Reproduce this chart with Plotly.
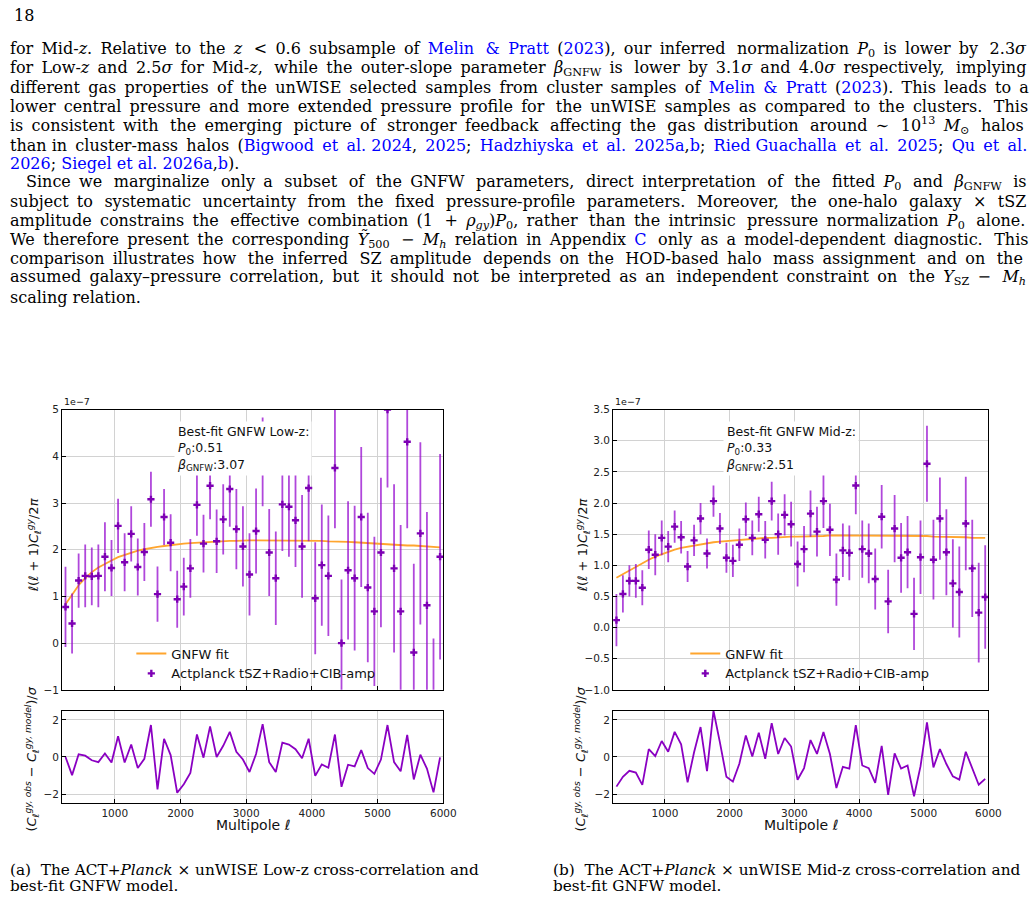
import plotly.graph_objects as go

W, H = 1035, 908

# ---------------- data (values in units of 1e-7) ----------------
ELL = [250, 350, 450, 550, 650, 750, 850, 950, 1050, 1150,
       1250, 1350, 1450, 1550, 1650, 1750, 1850, 1950, 2050, 2150,
       2250, 2350, 2450, 2550, 2650, 2750, 2850, 2950, 3050, 3150,
       3250, 3350, 3450, 3550, 3650, 3750, 3850, 3950, 4050, 4150,
       4250, 4350, 4450, 4550, 4650, 4750, 4850, 4950, 5050, 5150,
       5250, 5350, 5450, 5550, 5650, 5750, 5850, 5950]

LOW_Y = [0.775, 0.42, 1.34, 1.44, 1.43, 1.44, 1.85, 1.61, 2.51, 1.73,
         2.34, 1.63, 1.95, 3.08, 1.05, 2.70, 2.15, 0.94, 1.21, 1.60,
         2.96, 2.13, 3.37, 2.18, 2.65, 3.30, 2.44, 2.07, 1.47, 2.40,
         3.88, 1.94, 1.39, 2.97, 2.92, 2.63, 2.07, 3.32, 0.96, 1.67,
         1.44, 3.75, 0.00, 1.56, 1.39, 2.70, 1.19, 0.68, 1.94, 5.00,
         1.60, 0.68, 4.31, -0.20, 2.35, 0.81, -1.90, 1.85]
LOW_ERR = [0.86, 0.64, 0.58, 0.67, 0.62, 0.67, 0.74, 0.60, 0.58, 0.62,
           0.59, 0.61, 0.62, 0.59, 0.59, 0.60, 0.61, 0.61, 0.62, 0.63,
           0.66, 0.62, 0.72, 0.68, 0.75, 0.81, 0.86, 0.86, 0.88, 0.91,
           0.95, 0.93, 1.00, 1.00, 1.07, 1.00, 1.10, 1.14, 1.20, 1.30,
           1.29, 1.29, 1.36, 1.48, 1.55, 1.50, 1.60, 1.60, 1.60, 1.67,
           1.80, 1.85, 1.85, 1.90, 1.95, 2.00, 2.00, 2.20]
LOW_MODEL = [0.83, 1.05, 1.24, 1.39, 1.52, 1.62, 1.70, 1.77, 1.84, 1.89,
             1.94, 1.98, 2.01, 2.04, 2.06, 2.08, 2.10, 2.12, 2.13, 2.14,
             2.15, 2.16, 2.17, 2.18, 2.18, 2.19, 2.19, 2.20, 2.20, 2.20,
             2.20, 2.20, 2.20, 2.20, 2.20, 2.20, 2.20, 2.19, 2.19, 2.19,
             2.18, 2.18, 2.17, 2.17, 2.16, 2.15, 2.14, 2.13, 2.13, 2.12,
             2.11, 2.10, 2.09, 2.09, 2.08, 2.07, 2.06, 2.05]
LOW_RES = [0.00, -0.98, 0.14, 0.07, -0.18, -0.28, 0.19, -0.30, 1.12, -0.30,
           0.67, -0.60, -0.10, 1.72, -1.75, 0.98, 0.10, -1.93, -1.47, -0.86,
           1.21, -0.04, 1.65, 0.00, 0.60, 1.35, 0.28, -0.14, -0.81, 0.16,
           1.77, -0.28, -0.81, 0.77, 0.67, 0.42, -0.07, 0.98, -1.02, -0.40,
           -0.58, 1.21, -1.61, -0.42, -0.51, 0.37, -0.60, -0.91, -0.14, 1.72,
           -0.28, -0.77, 1.19, -1.21, 0.12, -0.63, -1.91, -0.02]

MID_Y = [0.12, 0.54, 0.75, 0.75, 0.64, 1.25, 1.17, 1.44, 1.30, 1.62,
         1.45, 0.98, 1.40, 1.75, 1.19, 2.03, 1.59, 1.12, 1.07, 1.33,
         1.74, 1.44, 1.82, 1.41, 2.03, 1.50, 1.81, 1.66, 1.02, 1.26,
         1.83, 1.54, 2.03, 1.57, 0.77, 1.24, 1.20, 2.28, 1.26, 1.19,
         0.78, 1.78, 0.42, 1.59, 1.12, 1.21, 0.22, 1.13, 2.63, 1.09,
         1.75, 1.21, 0.71, 0.57, 1.67, 0.95, 0.24, 0.49]
MID_ERR = [0.42, 0.30, 0.25, 0.27, 0.28, 0.31, 0.33, 0.28, 0.25, 0.26,
           0.26, 0.25, 0.25, 0.25, 0.24, 0.25, 0.25, 0.24, 0.26, 0.26,
           0.27, 0.28, 0.28, 0.30, 0.31, 0.33, 0.33, 0.36, 0.36, 0.37,
           0.37, 0.40, 0.43, 0.42, 0.42, 0.43, 0.44, 0.46, 0.46, 0.48,
           0.49, 0.51, 0.51, 0.54, 0.56, 0.58, 0.58, 0.59, 0.61, 0.64,
           0.66, 0.69, 0.71, 0.73, 0.75, 0.78, 0.80, 0.83]
MID_MODEL = [0.80, 0.86, 0.92, 0.98, 1.04, 1.09, 1.14, 1.18, 1.22, 1.25,
             1.28, 1.30, 1.32, 1.34, 1.36, 1.37, 1.38, 1.39, 1.40, 1.41,
             1.42, 1.43, 1.43, 1.44, 1.44, 1.45, 1.45, 1.46, 1.46, 1.46,
             1.47, 1.47, 1.47, 1.48, 1.48, 1.48, 1.48, 1.48, 1.48, 1.48,
             1.48, 1.48, 1.48, 1.48, 1.48, 1.47, 1.47, 1.47, 1.47, 1.46,
             1.46, 1.46, 1.45, 1.45, 1.45, 1.44, 1.44, 1.44]
MID_RES = [-1.60, -1.07, -0.75, -0.84, -1.51, 0.42, 0.04, 0.86, 0.28, 1.35,
           0.68, -1.37, 0.25, 1.61, -0.77, 2.49, 0.77, -1.07, -1.33, -0.37,
           1.16, 0.02, 1.30, -0.10, 1.82, 0.16, 1.02, 0.56, -1.23, -0.60,
           0.91, 0.16, 1.35, 0.16, -1.68, -0.53, -0.63, 1.72, -0.46, -0.60,
           -1.40, 0.60, -2.04, 0.19, -0.63, -0.46, -2.12, -0.51, 1.86, -0.56,
           0.42, -0.38, -1.05, -1.22, 0.28, -0.65, -1.50, -1.18]

X_TICKS = [1000, 2000, 3000, 4000, 5000, 6000]
LOW_YTICKS = [-1, 0, 1, 2, 3, 4, 5]
MID_YTICKS = [-1.0, -0.5, 0.0, 0.5, 1.0, 1.5, 2.0, 2.5, 3.0, 3.5]
RES_YTICKS = [-2, 0, 2]

LOW_FIT = ("Best-fit GNFW Low-z:", "0.51", "3.07")
MID_FIT = ("Best-fit GNFW Mid-z:", "0.33", "2.51")
DATA_NAME = "Actplanck tSZ+Radio+CIB-amp"
MODEL_NAME = "GNFW fit"

# ---------------- styling ----------------
PURPLE = "#7d00b4"
PURPLE_BAR = "rgba(145,0,205,0.72)"
RES_COLOR = "#8a00c2"
ORANGE = "#ffa52e"
SANS = "DejaVu Sans"
SERIF = "DejaVu Serif"
BLUE = "#0000ff"
BODY_SIZE = 16


def px(x):
    return x / W


def py(y):
    return 1 - y / H


LX = [px(63), px(449)]
MX = [px(621), px(1001)]
TOPY = [py(693), py(409)]
BOTY = [py(808), py(714)]

fig = go.Figure()

panels = [
    ("x", "y", "x2", "y2", LOW_Y, LOW_ERR, LOW_MODEL, LOW_RES, "legend"),
    ("x3", "y3", "x4", "y4", MID_Y, MID_ERR, MID_MODEL, MID_RES, "legend2"),
]
for xa, ya, xb, yb, yv, ev, mv, rv, lg in panels:
    fig.add_trace(go.Scatter(x=ELL, y=mv, mode="lines", name=MODEL_NAME,
                             line=dict(color=ORANGE, width=1.8),
                             xaxis=xa, yaxis=ya, legend=lg))
    fig.add_trace(go.Scatter(x=ELL, y=yv, mode="markers", name=DATA_NAME,
                             marker=dict(symbol="cross", size=6, color=PURPLE,
                                         line=dict(width=0)),
                             error_y=dict(type="data", array=ev, visible=True,
                                          color=PURPLE_BAR, thickness=1.8, width=0),
                             xaxis=xa, yaxis=ya, legend=lg))
    fig.add_trace(go.Scatter(x=ELL, y=rv, mode="lines", showlegend=False,
                             line=dict(color=RES_COLOR, width=1.8),
                             xaxis=xb, yaxis=yb))

axc = dict(showline=True, linecolor="black", linewidth=1.3, mirror=True,
           ticks="inside", ticklen=4, tickwidth=1, tickcolor="black",
           showgrid=True, gridcolor="#d2d2d2", gridwidth=1, zeroline=False,
           tickfont=dict(family=SANS, size=10.5, color="#222"))

fig.update_layout(
    width=W, height=H, margin=dict(l=0, r=0, t=0, b=0),
    paper_bgcolor="white", plot_bgcolor="white", autosize=False,
    font=dict(family=SANS, color="#111"),
    xaxis=dict(domain=LX, anchor="y", range=[200, 6000], tickvals=X_TICKS,
               showticklabels=False, **axc),
    yaxis=dict(domain=TOPY, anchor="x", range=[-1, 5], tickvals=LOW_YTICKS, **axc),
    xaxis2=dict(domain=LX, anchor="y2", range=[200, 6000], tickvals=X_TICKS, **axc),
    yaxis2=dict(domain=BOTY, anchor="x2", range=[-2.5, 2.5], tickvals=RES_YTICKS, **axc),
    xaxis3=dict(domain=MX, anchor="y3", range=[200, 6000], tickvals=X_TICKS,
                showticklabels=False, **axc),
    yaxis3=dict(domain=TOPY, anchor="x3", range=[-1, 3.5], tickvals=MID_YTICKS,
                tickformat=".1f", **axc),
    xaxis4=dict(domain=MX, anchor="y4", range=[200, 6000], tickvals=X_TICKS, **axc),
    yaxis4=dict(domain=BOTY, anchor="x4", range=[-2.5, 2.5], tickvals=RES_YTICKS, **axc),
    legend=dict(x=px(133), y=py(641), xanchor="left", yanchor="top",
                bgcolor="rgba(0,0,0,0)", font=dict(family=SANS, size=13, color="#111"),
                itemwidth=30, tracegroupgap=0),
    legend2=dict(x=px(694), y=py(641), xanchor="left", yanchor="top",
                 bgcolor="rgba(0,0,0,0)", font=dict(family=SANS, size=13, color="#111"),
                 itemwidth=30, tracegroupgap=0),
)

ann = []


def add(text, x, y, size, family=SANS, xanchor="left", yanchor="middle",
        angle=0, color="#111", **kw):
    ann.append(dict(text=text, x=px(x), y=py(y), xref="paper", yref="paper",
                    showarrow=False, xanchor=xanchor, yanchor=yanchor,
                    textangle=angle, font=dict(family=family, size=size, color=color),
                    **kw))


# fit boxes
for fit, x0 in ((LOW_FIT, 176), (MID_FIT, 732)):
    txt = (f"{fit[0]}<br><i>P</i><sub>0</sub>:{fit[1]}<br>"
           f"<i>β</i><sub>GNFW</sub>:{fit[2]}")
    add(txt, x0, 421, 12.5, yanchor="top", align="left", bgcolor="white", borderpad=2)

# offset texts, axis titles
YT = ("<i>ℓ</i>(<i>ℓ</i> + 1)<i>C</i><sub><i>ℓ</i></sub>"
      "<sup><i>gy</i></sup>/2<i>π</i>")
RT = ("(<i>C</i><sub><i>ℓ</i></sub><sup><i>gy, obs</i></sup> − "
      "<i>C</i><sub><i>ℓ</i></sub><sup><i>gy, model</i></sup>)/<i>σ</i>")
for x0, x1, cx in ((63, 449, 34), (621, 1001, 590)):
    add("1e−7", x0, 401, 9.5)
    add(YT, cx, 547, 13, xanchor="center", angle=-90)
    add(RT, cx - 2, 763, 13, xanchor="center", angle=-90)
    add("Multipole <i>ℓ</i>", (x0 + x1) / 2, 830, 14, xanchor="center")

# captions
CAP_A = ["(a)  The ACT+<i>Planck</i> × unWISE Low-z cross-correlation and",
         "best-fit GNFW model."]
CAP_B = ["(b)  The ACT+<i>Planck</i> × unWISE Mid-z cross-correlation and",
         "best-fit GNFW model."]
for lines, x0 in ((CAP_A, 8), (CAP_B, 558)):
    for i, t in enumerate(lines):
        add(t, x0, 876 + 15.5 * i, 15.3, family=SERIF, color="#000")


def c(s):
    return f"<span style='color:{BLUE}'>{s}</span>"


def justify(text, extra_px, size):
    """Widen inter-word gaps (outside tags) with thin spaces to approximate justification."""
    n_thin = max(0, round(extra_px / (0.2 * size)))
    parts, buf, depth = [], "", 0
    for ch in text:
        if ch == "<":
            depth += 1
        elif ch == ">":
            depth -= 1
        if ch == " " and depth == 0:
            parts.append(buf)
            buf = ""
        else:
            buf += ch
    parts.append(buf)
    gaps = len(parts) - 1
    if gaps <= 0 or n_thin == 0:
        return text
    out = parts[0]
    for i in range(gaps):
        k = (i + 1) * n_thin // gaps - i * n_thin // gaps
        out += " " + "\u2009" * k + parts[i + 1]
    return out


# (indent, text, approximate missing width to the right margin in px)
BODY = [
    (8, f"for Mid-<i>z</i>. Relative to the <i>z</i> &lt; 0.6 subsample of {c('Melin &amp; Pratt')} "
        f"({c('2023')}), our inferred normalization <i>P</i><sub>0</sub> is lower by 2.3<i>σ</i>", 80),
    (8, "for Low-<i>z</i> and 2.5<i>σ</i> for Mid-<i>z</i>, while the outer-slope parameter "
        "<i>β</i><sub>GNFW</sub> is lower by 3.1<i>σ</i> and 4.0<i>σ</i> respectively, implying", 68),
    (8, f"different gas properties of the unWISE selected samples from cluster samples of "
        f"{c('Melin &amp; Pratt')} ({c('2023')}). This leads to a", 60),
    (8, "lower central pressure and more extended pressure profile for the unWISE samples as "
        "compared to the clusters. This", 60),
    (8, "is consistent with the emerging picture of stronger feedback affecting the gas "
        "distribution around ∼ 10<sup>13</sup> <i>M</i><sub>⊙</sub> halos", 80),
    (8, f"than in cluster-mass halos ({c('Bigwood et al. 2024')}, {c('2025')}; "
        f"{c('Hadzhiyska et al. 2025a')},{c('b')}; {c('Ried Guachalla et al. 2025')}; {c('Qu et al.')}", 55),
    (8, f"{c('2026')}; {c('Siegel et al. 2026a')},{c('b')}).", 0),
    (24, "Since we marginalize only a subset of the GNFW parameters, direct interpretation of "
         "the fitted <i>P</i><sub>0</sub> and <i>β</i><sub>GNFW</sub> is", 98),
    (8, "subject to systematic uncertainty from the fixed pressure-profile parameters. "
        "Moreover, the one-halo galaxy × tSZ", 86),
    (8, "amplitude constrains the effective combination (1 + <i>ρ</i><sub><i>gy</i></sub>)"
        "<i>P</i><sub>0</sub>, rather than the intrinsic pressure normalization "
        "<i>P</i><sub>0</sub> alone.", 65),
    (8, f"We therefore present the corresponding <i>\u1EF8</i><sub>500</sub> − <i>M</i><sub><i>h</i></sub> "
        f"relation in Appendix {c('C')} only as a model-dependent diagnostic. This", 63),
    (8, "comparison illustrates how the inferred SZ amplitude depends on the HOD-based halo "
        "mass assignment and on the", 75),
    (8, "assumed galaxy–pressure correlation, but it should not be interpreted as an "
        "independent constraint on the <i>Y</i><sub>SZ</sub> − <i>M</i><sub><i>h</i></sub>", 70),
    (8, "scaling relation.", 0),
]
BODY_Y = [44, 63, 83, 102, 121, 141, 160, 179, 198, 218, 237, 256, 275, 295]
for (x0, t, extra), y0 in zip(BODY, BODY_Y):
    add(justify(t, extra, BODY_SIZE), x0, y0, BODY_SIZE, family=SERIF, color="#000")

add("18", 12, 10, 16, family=SERIF, color="#000")

fig.update_layout(annotations=ann)
fig.write_html("out.html", config={"displayModeBar": False})
